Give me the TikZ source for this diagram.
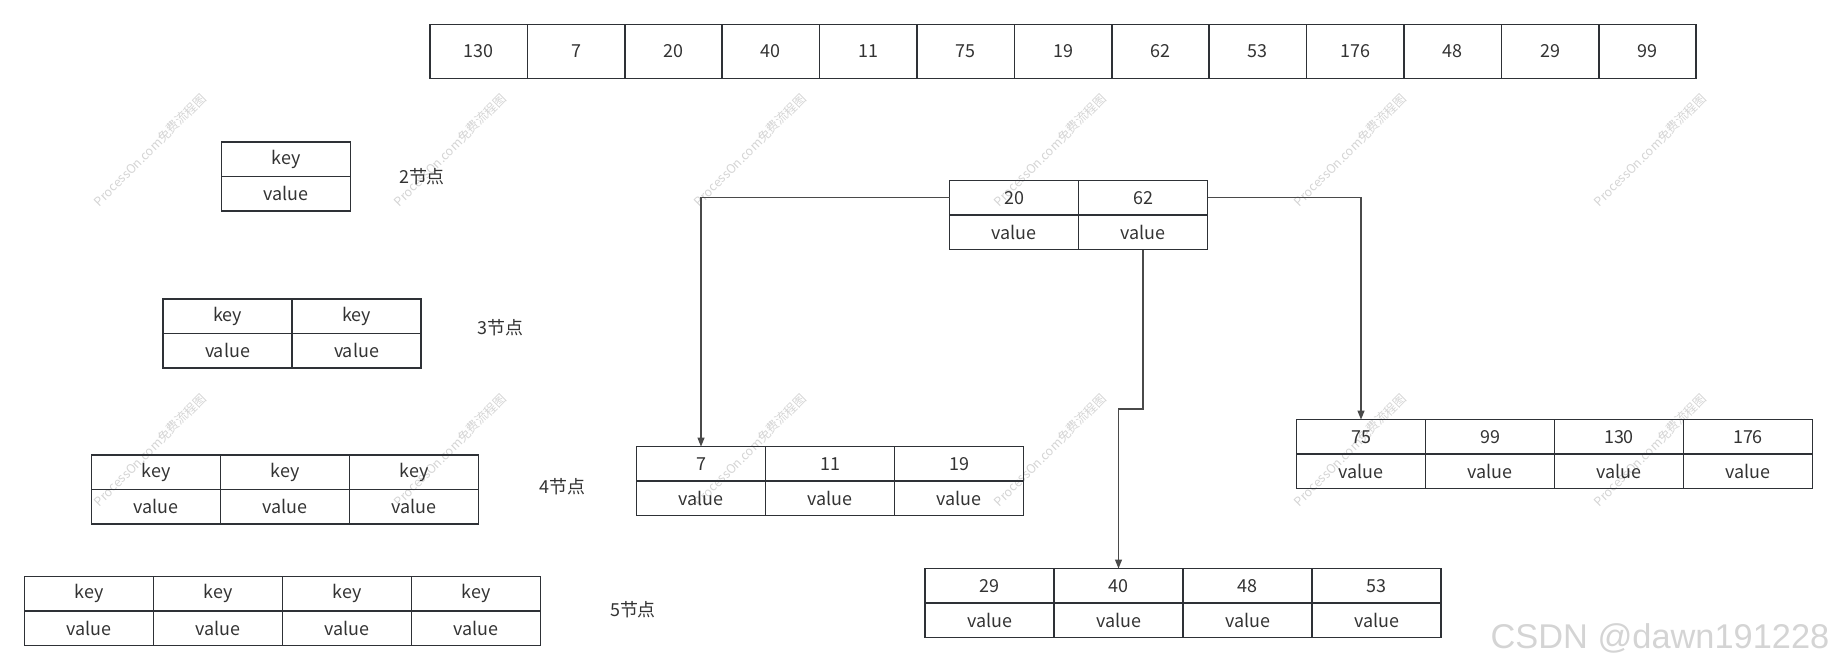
\documentclass[tikz,border=0pt]{standalone}
\usepackage{fontspec}
\setmainfont{Noto Sans CJK SC}
\newfontfamily\csdnfont{Liberation Sans}
\usetikzlibrary{positioning,arrows.meta}
\definecolor{cellline}{HTML}{2E3136}
\definecolor{celltext}{HTML}{333333}
\definecolor{linkline}{HTML}{4A4A4A}
\definecolor{markgray}{HTML}{D4D4D4}

\begin{document}
\begin{tikzpicture}[x=1bp,y=-1bp,
  kvcell/.style={draw=cellline, line width=1.5bp, inner sep=0pt, outer sep=0pt, text=celltext, font=\fontsize{18}{20}\selectfont},
  keycell/.style={kvcell, minimum width=129bp, minimum height=34.5bp, anchor=north west},
  valcell/.style={kvcell, minimum width=129bp, minimum height=34.5bp},
  arraycell/.style={kvcell, minimum width=97.4bp, minimum height=54bp, anchor=north west},
  sizetag/.style={text=celltext, font=\fontsize{18}{20}\selectfont},
  treelink/.style={draw=linkline, line width=1.2bp, -{Triangle[length=9bp,width=7bp]}},
  wmark/.style={rotate=45, text=markgray, font=\fontsize{12.5}{14}\selectfont},
  csdn/.style={text=markgray, font=\csdnfont\fontsize{34.5}{36}\selectfont}]
\useasboundingbox (0,0) rectangle (1838,670);
% watermarks
\foreach \x in {150,450,...,1650}
  \foreach \y in {150,450}
    \node[wmark] at (\x,\y) {ProcessOn.com免费流程图};
% input array
\foreach \k [count=\i] in {130,7,20,40,11,75,19,62,53,176,48,29,99}
  \node[arraycell] (a\i) at ({430+97.4*(\i-1)},24.6) {\k};
% legend: 2..5 nodes
\foreach \n/\cols/\x/\y/\lx/\ly in {2/1/221.5/141.8/422/177, 3/2/163/299/500.5/328, 4/3/91.4/454.8/562.6/486.5, 5/4/24.6/576.7/633/609.5}{
  \foreach \i in {1,...,\cols}{
    \node[keycell] (l\n-k\i) at ({\x+129*(\i-1)},\y) {key};
    \node[valcell,below=0pt of l\n-k\i] (l\n-v\i) {value};
  }
  \node[sizetag] (l\n-tag) at (\lx,\ly) {\n{}节点};
}
% root
\foreach \k [count=\i] in {20,62}{
  \node[keycell] (rk\i) at ({949.5+129*(\i-1)},180.5) {\k};
  \node[valcell,below=0pt of rk\i] (rv\i) {value};
}
% children
\foreach \k [count=\i] in {7,11,19}{
  \node[keycell] (ak\i) at ({636.5+129*(\i-1)},446.6) {\k};
  \node[valcell,below=0pt of ak\i] (av\i) {value};
}
\foreach \k [count=\i] in {29,40,48,53}{
  \node[keycell] (bk\i) at ({925+129*(\i-1)},568.5) {\k};
  \node[valcell,below=0pt of bk\i] (bv\i) {value};
}
\foreach \k [count=\i] in {75,99,130,176}{
  \node[keycell] (ck\i) at ({1296.5+129*(\i-1)},419.6) {\k};
  \node[valcell,below=0pt of ck\i] (cv\i) {value};
}
% links
\coordinate (bend) at (1130,409);
\draw[treelink] (rk1.west) -| (ak1.north);
\draw[treelink] (rk2.east) -| (ck1.north);
\draw[treelink] (rv2.south) |- (bend) -| (bk2.north);
\node[csdn] (mark) at (1660,638) {CSDN @dawn191228};
\end{tikzpicture}
\end{document}
